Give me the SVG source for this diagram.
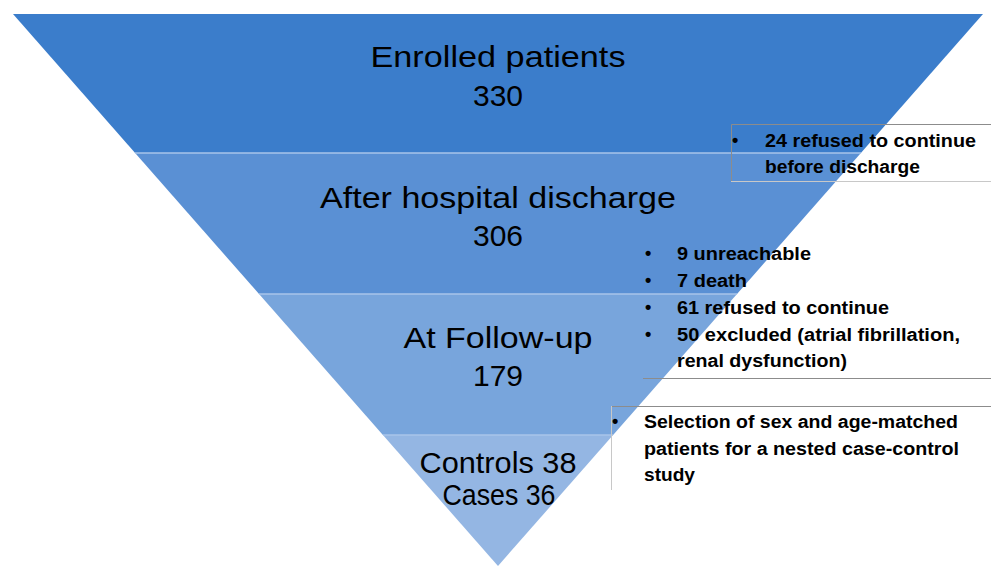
<svg xmlns="http://www.w3.org/2000/svg" width="991" height="569" viewBox="0 0 991 569">
<defs>
<clipPath id="tri"><polygon points="13,14 983,14 498,566"/></clipPath>
<style>
.lbl{font-family:"Liberation Sans",Arial,sans-serif;font-size:30px;fill:#000;text-anchor:middle}
.nt{font-family:"Liberation Sans",Arial,sans-serif;font-size:18px;font-weight:bold;fill:#000}
.bx{fill:none;stroke:#8c8c8c;stroke-width:1}
.bxl{fill:none;stroke:#c8c8c8;stroke-width:1}
.sep{stroke:#a9c5ea;stroke-width:1.5}
</style>
</defs>
<rect width="991" height="569" fill="#fff"/>
<g clip-path="url(#tri)">
<g id="band1"><rect x="0" y="14" width="991" height="139" fill="#3b7dcb"/></g>
<g id="band2"><rect x="0" y="153" width="991" height="141" fill="#5a90d4"/></g>
<g id="band3"><rect x="0" y="294" width="991" height="141" fill="#78a5dc"/></g>
<g id="band4"><rect x="0" y="435" width="991" height="134" fill="#94b6e3"/></g>
<line class="sep" x1="0" y1="153" x2="991" y2="153"/>
<line class="sep" x1="0" y1="294" x2="991" y2="294"/>
<line class="sep" x1="0" y1="435" x2="991" y2="435"/>
</g>
<g id="label1">
<text class="lbl" x="498" y="67" textLength="255" lengthAdjust="spacingAndGlyphs">Enrolled patients</text>
<text class="lbl" x="498" y="106">330</text>
</g>
<g id="label2">
<text class="lbl" x="498" y="208" textLength="356" lengthAdjust="spacingAndGlyphs">After hospital discharge</text>
<text class="lbl" x="498" y="246">306</text>
</g>
<g id="label3">
<text class="lbl" x="498" y="348" textLength="189" lengthAdjust="spacingAndGlyphs">At Follow-up</text>
<text class="lbl" x="498" y="386">179</text>
</g>
<g id="label4">
<text class="lbl" x="498" y="473" textLength="157" lengthAdjust="spacingAndGlyphs">Controls 38</text>
<text class="lbl" x="499" y="505" textLength="113" lengthAdjust="spacingAndGlyphs">Cases 36</text>
</g>
<g id="note1">
<path class="bx" d="M991,124.5 H731.5 V181"/>
<line class="bxl" x1="731" y1="181.5" x2="991" y2="181.5"/>
<text class="nt" x="732" y="146">•</text>
<text class="nt" x="765" y="147" textLength="211" lengthAdjust="spacingAndGlyphs">24 refused to continue</text>
<text class="nt" x="765" y="173" textLength="155" lengthAdjust="spacingAndGlyphs">before discharge</text>
</g>
<g id="note2">
<line class="bx" x1="643" y1="378.5" x2="991" y2="378.5"/>
<text class="nt" x="645" y="259">•</text>
<text class="nt" x="677" y="260" textLength="134" lengthAdjust="spacingAndGlyphs">9 unreachable</text>
<text class="nt" x="645" y="286">•</text>
<text class="nt" x="677" y="287" textLength="70" lengthAdjust="spacingAndGlyphs">7 death</text>
<text class="nt" x="645" y="313">•</text>
<text class="nt" x="677" y="314" textLength="212" lengthAdjust="spacingAndGlyphs">61 refused to continue</text>
<text class="nt" x="645" y="340">•</text>
<text class="nt" x="677" y="341" textLength="283" lengthAdjust="spacingAndGlyphs">50 excluded (atrial fibrillation,</text>
<text class="nt" x="677" y="367" textLength="170" lengthAdjust="spacingAndGlyphs">renal dysfunction)</text>
</g>
<g id="note3">
<path class="bx" d="M991,406.5 H611.5"/>
<line class="bxl" x1="611.5" y1="406" x2="611.5" y2="490"/>
<text class="nt" x="612" y="427">•</text>
<text class="nt" x="644" y="428" textLength="314" lengthAdjust="spacingAndGlyphs">Selection of sex and age-matched</text>
<text class="nt" x="644" y="455" textLength="315" lengthAdjust="spacingAndGlyphs">patients for a nested case-control</text>
<text class="nt" x="644" y="481" textLength="51" lengthAdjust="spacingAndGlyphs">study</text>
</g>
</svg>
